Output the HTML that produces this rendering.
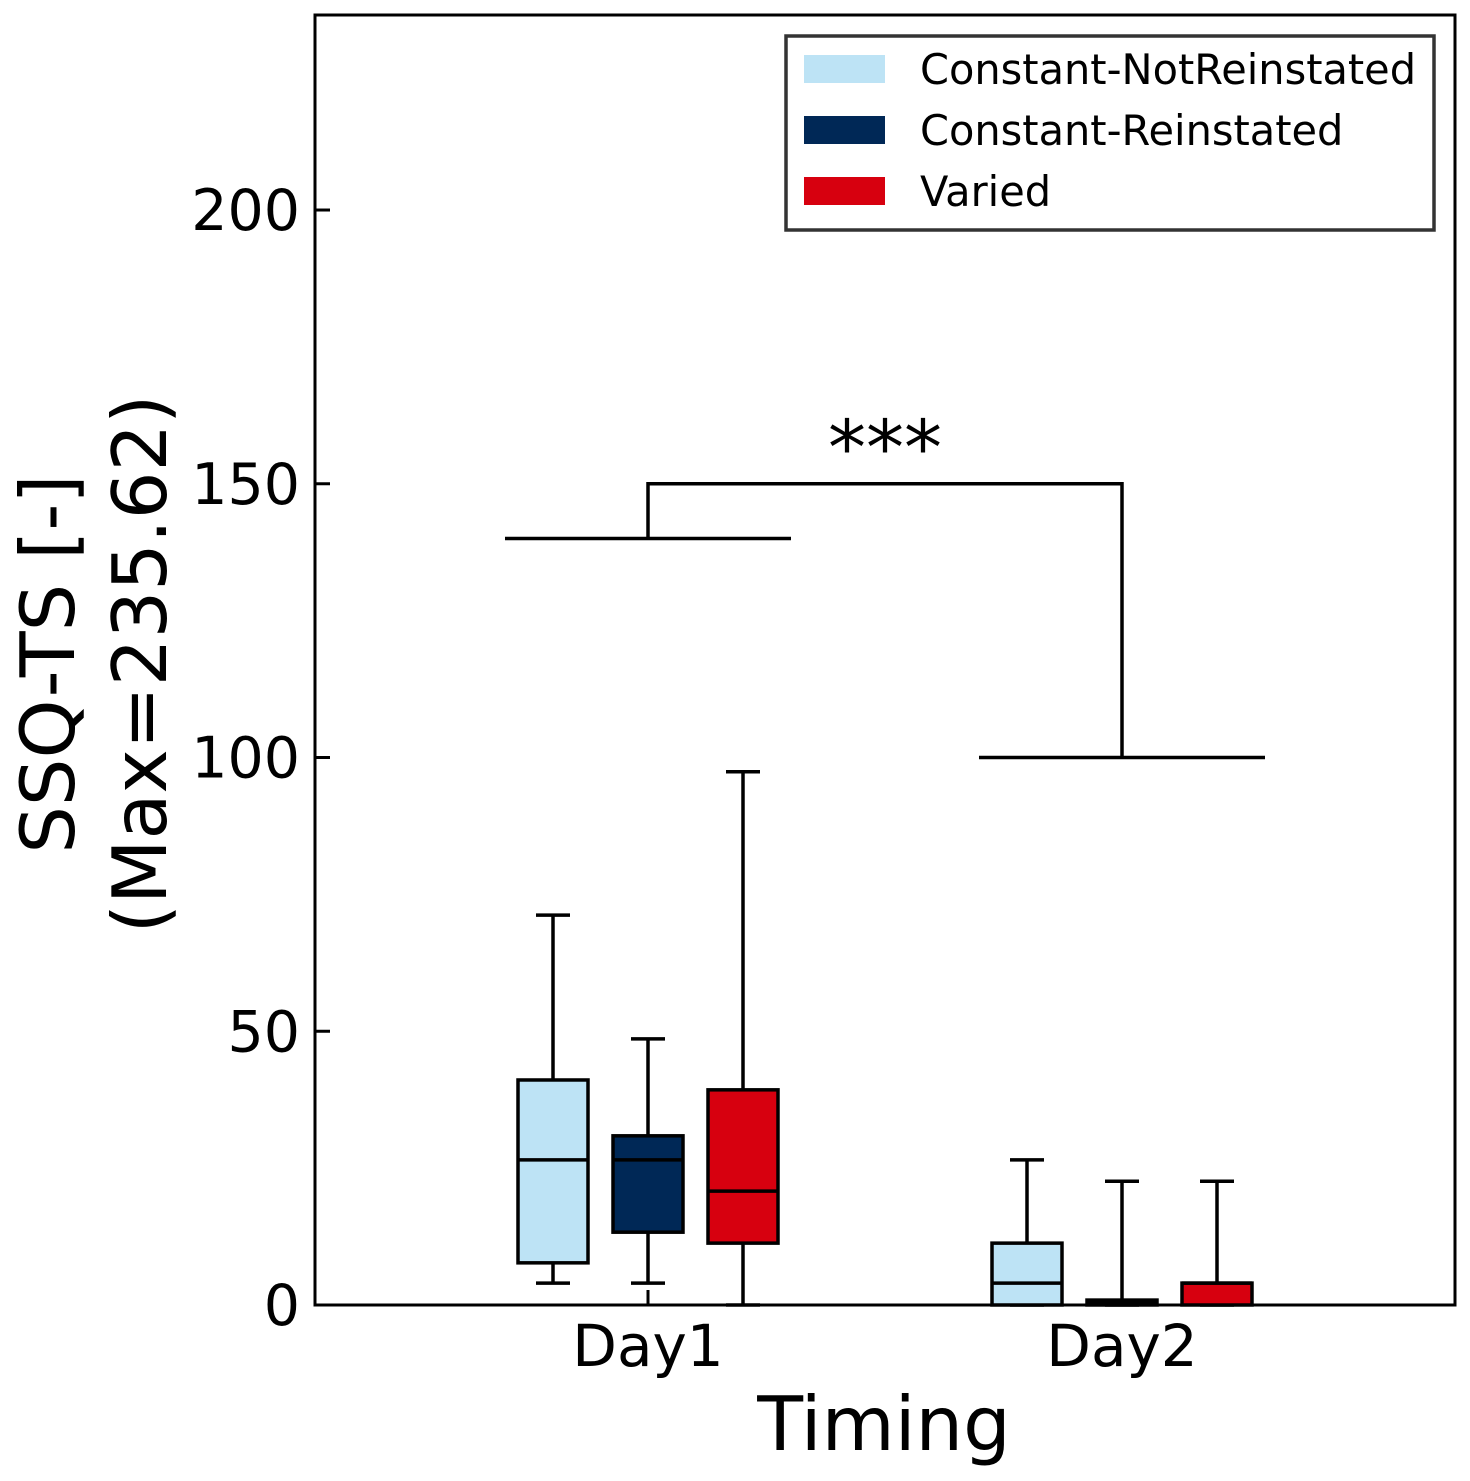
<!DOCTYPE html>
<html><head><meta charset="utf-8"><style>
body{margin:0;background:#fff}
svg{display:block;font-family:"DejaVu Sans","Liberation Sans",sans-serif}
</style></head><body>
<svg id="chart" width="1470" height="1481" viewBox="0 0 1470 1481">
<g id="marks"></g>
<rect x="315" y="15" width="1140" height="1290" fill="none" stroke="#000" stroke-width="3"/>
<text x="884" y="1450" font-size="75" text-anchor="middle">Timing</text>
<g transform="translate(74,664) rotate(-90)">
<text x="0" y="0" font-size="75" text-anchor="middle">SSQ-TS [-]</text>
<text x="0" y="92" font-size="75" text-anchor="middle">(Max=235.62)</text>
</g>
<g>
<rect x="786" y="36" width="648" height="194" fill="#fff" stroke="#333" stroke-width="3.5"/>
<rect x="804" y="55" width="81" height="28" fill="#bde3f5"/>
<text x="920" y="84" font-size="41.5">Constant-NotReinstated</text>
<rect x="804" y="116" width="81" height="28" fill="#002856"/>
<text x="920" y="145" font-size="41.5">Constant-Reinstated</text>
<rect x="804" y="177" width="81" height="28" fill="#d7000f"/>
<text x="920" y="206" font-size="41.5">Varied</text>
</g>
</svg>
<script>
const categories=["Day1","Day2"];
const groups=["Constant-NotReinstated","Constant-Reinstated","Varied"];
const colors=["#bde3f5","#002856","#d7000f"];
const whiskerLow=[[4.0,4.0,0],[0,0,0]];
const q1=[[7.7,13.3,11.3],[0,0,0]];
const medians=[[26.5,26.5,20.8],[4.0,0.5,4.0]];
const q3=[[41.1,30.9,39.3],[11.3,0.9,4.0]];
const whiskerHigh=[[71.2,48.6,97.4],[26.5,22.6,22.6]];
const yTicks=[0,50,100,150,200];
const sigLeft=140, sigRight=100, sigTop=150;

const ymax=235.62, plotTop=15, plotBottom=1305;
const y=v=>plotBottom-(v/ymax)*(plotBottom-plotTop);
const xCat=i=>648+i*474;
const offset=95, bw=70;
const NS="http://www.w3.org/2000/svg";
const g=document.getElementById('marks');
function mk(t,a){const e=document.createElementNS(NS,t);for(const k in a)e.setAttribute(k,a[k]);g.appendChild(e);return e;}
yTicks.forEach(t=>{
  const l=mk('line',{x1:315,x2:330,y1:y(t),y2:y(t),stroke:'#000','stroke-width':3});
  
  
  const tx=mk('text',{x:300,y:y(t)+20,'font-size':57,'text-anchor':'end'});
  tx.textContent=t;
  
  
});
categories.forEach((c,i)=>{
  const l=mk('line',{x1:xCat(i),x2:xCat(i),y1:1305,y2:1290,stroke:'#000','stroke-width':3});
  
  
  const tx=mk('text',{x:xCat(i),y:1366,'font-size':58,'text-anchor':'middle'});
  tx.textContent=c;
  
  
  groups.forEach((gn,j)=>{
    const cx=xCat(i)+(j-1)*offset;
    const s={stroke:'#000','stroke-width':3.5};
    const w1=mk('line',Object.assign({x1:cx,x2:cx,y1:y(whiskerHigh[i][j]),y2:y(q3[i][j])},s));
    
    
    const w2=mk('line',Object.assign({x1:cx,x2:cx,y1:y(q1[i][j]),y2:y(whiskerLow[i][j])},s));
    
    
    [whiskerHigh[i][j],whiskerLow[i][j]].forEach(v=>{
      const cap=mk('line',Object.assign({x1:cx-17,x2:cx+17,y1:y(v),y2:y(v)},s));
      
      
    });
    const b=mk('rect',{x:cx-bw/2,y:y(q3[i][j]),width:bw,height:Math.max(y(q1[i][j])-y(q3[i][j]),1),fill:colors[j],stroke:'#000','stroke-width':3.5});
    
    
    const m=mk('line',Object.assign({x1:cx-bw/2,x2:cx+bw/2,y1:y(medians[i][j]),y2:y(medians[i][j])},s));
    
    
  });
});
const s={stroke:'#000','stroke-width':3.5,fill:'none'};
const b1=mk('line',Object.assign({x1:xCat(0)-143,x2:xCat(0)+143,y1:y(sigLeft),y2:y(sigLeft)},s));


const b2=mk('line',Object.assign({x1:xCat(1)-143,x2:xCat(1)+143,y1:y(sigRight),y2:y(sigRight)},s));


const b3=mk('polyline',Object.assign({points:`${xCat(0)},${y(sigLeft)} ${xCat(0)},${y(sigTop)} ${xCat(1)},${y(sigTop)} ${xCat(1)},${y(sigRight)}`},s));


const st=mk('text',{x:(xCat(0)+xCat(1))/2,y:y(sigTop)-10,'font-size':76,'text-anchor':'middle'});
st.textContent='***';


</script>
</body></html>
